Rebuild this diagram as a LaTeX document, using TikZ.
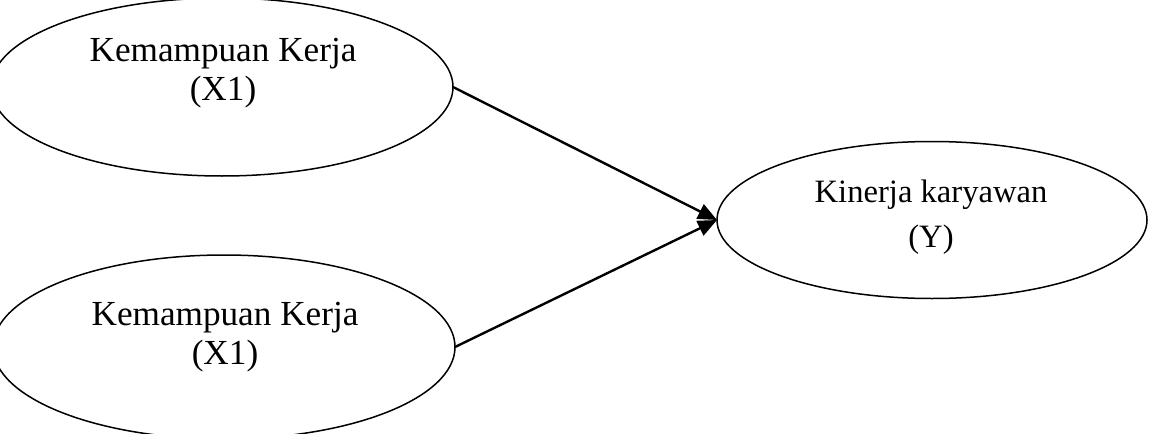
\documentclass[tikz,border=0pt]{standalone}
\usepackage{fontspec}
\setmainfont{Liberation Serif}
\usetikzlibrary{shapes.geometric, arrows.meta}
\tikzset{
  oval/.style={ellipse, draw=black, line width=0.75pt, inner sep=0pt, outer sep=0pt},
  lbl/.style={align=center, inner sep=0pt, font=\fontsize{17.6}{19.5}\selectfont},
  lblY/.style={align=center, inner sep=0pt, font=\fontsize{16.3}{22.5}\selectfont},
  link/.style={line width=1.2pt, -{Triangle[length=9.5pt,width=8pt]}}
}
\begin{document}
\begin{tikzpicture}[x=0.5pt,y=-0.5pt]
\useasboundingbox (0,0) rectangle (1149,433);
\node[oval, minimum width=231pt, minimum height=89pt] (kerjaA) at (222,87) {};
\node[oval, minimum width=231pt, minimum height=92pt] (kerjaB) at (224,347) {};
\node[oval, minimum width=215pt, minimum height=78.5pt] (kinerja) at (932,220) {};
\node[lbl] (txtA) at (223,73) {Kemampuan Kerja\\(X1)};
\node[lbl] (txtB) at (225,337) {Kemampuan Kerja\\(X1)};
\node[lblY] (txtY) at (931,217) {Kinerja karyawan\\(Y)};
\draw[link] (kerjaA.east) -- (kinerja.west);
\draw[link] (kerjaB.east) -- (kinerja.west);
\end{tikzpicture}
\end{document}
